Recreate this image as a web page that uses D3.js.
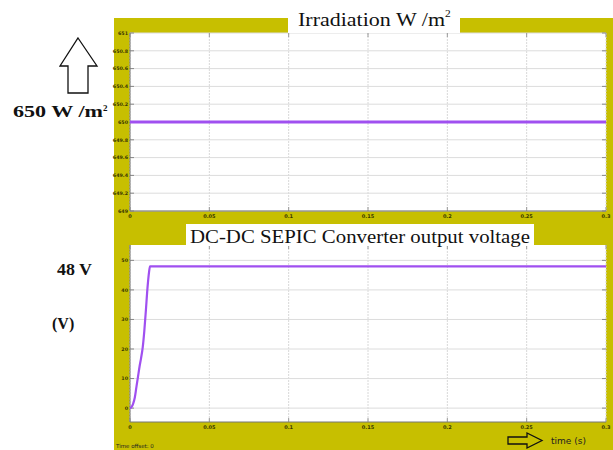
<!DOCTYPE html>
<html>
<head>
<meta charset="utf-8">
<script src="https://cdn.jsdelivr.net/npm/d3@7"></script>
<style>
  html, body { margin: 0; padding: 0; background: #fff; }
  svg { display: block; }
  .serif { font-family: "Liberation Serif", "DejaVu Serif", serif; }
</style>
</head>
<body>
<svg id="chart" width="613" height="450"></svg>
<script>
// Time axis shared by both scopes (seconds)
const timeTicks = [0, 0.05, 0.1, 0.15, 0.2, 0.25, 0.3];
const timeTickLabels = ["0", "0.05", "0.1", "0.15", "0.2", "0.25", "0.3"];

// Irradiation scope
const irrTicks = [649, 649.2, 649.4, 649.6, 649.8, 650, 650.2, 650.4, 650.6, 650.8, 651];
const irrTime = [0, 0.3];
const irrValue = [650, 650];

// SEPIC output voltage scope
const voltTicks = [0, 10, 20, 30, 40, 50];
const voltTime = [0, 0.001, 0.002, 0.003, 0.004, 0.005, 0.006, 0.007, 0.008, 0.009, 0.010, 0.011, 0.012, 0.0126, 0.3];
const voltValue = [0, 0.4, 1.5, 3.5, 7, 10.5, 14, 17, 20.5, 26, 33, 40.5, 46, 48, 48];

const svg = d3.select("#chart");
const yellow = "#c7bf00";
const purple = "#a050f0";

// scope panel background
svg.append("rect").attr("x", 114).attr("y", 18).attr("width", 499).attr("height", 432).attr("fill", yellow);

const x = d3.scaleLinear().domain([0, 0.3]).range([130, 606]);

function drawScope(top, bottom, domain, ticks, tickFmt, times, values, lineW) {
  const y = d3.scaleLinear().domain(domain).range([bottom, top]);
  const g = svg.append("g");
  g.append("rect").attr("x", 130).attr("y", top).attr("width", 476).attr("height", bottom - top)
    .attr("fill", "#fff");
  // grid
  g.selectAll(".vg").data(timeTicks).join("line")
    .attr("x1", d => x(d)).attr("x2", d => x(d)).attr("y1", top).attr("y2", bottom)
    .attr("stroke", "#d8d8d8").attr("stroke-width", 1).attr("stroke-dasharray", "2,1");
  g.selectAll(".hg").data(ticks).join("line")
    .attr("x1", 130).attr("x2", 606).attr("y1", d => y(d)).attr("y2", d => y(d))
    .attr("stroke", "#dcdcdc").attr("stroke-width", 1);
  // inner tick marks
  g.selectAll(".lt").data(ticks).join("line")
    .attr("x1", 130).attr("x2", 134).attr("y1", d => y(d)).attr("y2", d => y(d))
    .attr("stroke", "#888");
  g.selectAll(".rt").data(ticks).join("line")
    .attr("x1", 602).attr("x2", 606).attr("y1", d => y(d)).attr("y2", d => y(d))
    .attr("stroke", "#888");
  g.selectAll(".tt").data(timeTicks).join("line")
    .attr("x1", d => x(d)).attr("x2", d => x(d)).attr("y1", top).attr("y2", top + 4)
    .attr("stroke", "#999");
  g.selectAll(".bt").data(timeTicks).join("line")
    .attr("x1", d => x(d)).attr("x2", d => x(d)).attr("y1", bottom - 4).attr("y2", bottom)
    .attr("stroke", "#999");
  // frame
  g.append("line").attr("x1", 130).attr("x2", 606).attr("y1", bottom).attr("y2", bottom)
    .attr("stroke", "#777").attr("stroke-width", 1);
  g.append("line").attr("x1", 130).attr("x2", 130).attr("y1", top).attr("y2", bottom)
    .attr("stroke", "#777").attr("stroke-width", 1);
  // y tick labels
  g.selectAll(".yl").data(ticks).join("text")
    .attr("x", 128).attr("y", d => y(d) + 1.7)
    .attr("text-anchor", "end").attr("font-size", 4.8).attr("font-weight", "bold")
    .attr("font-family", "DejaVu Sans, sans-serif").attr("fill", "#3a3800")
    .text(tickFmt);
  // x tick labels
  g.selectAll(".xl").data(timeTicks).join("text")
    .attr("x", d => x(d)).attr("y", bottom + 7)
    .attr("text-anchor", "middle").attr("font-size", 5).attr("font-weight", "bold")
    .attr("font-family", "DejaVu Sans, sans-serif").attr("fill", "#3a3800")
    .text((d, i) => timeTickLabels[i]);
  // signal
  const line = d3.line().x(d => x(d[0])).y(d => y(d[1])).curve(d3.curveMonotoneX);
  g.append("path").datum(times.map((t, i) => [t, values[i]]))
    .attr("d", line).attr("fill", "none").attr("stroke", purple)
    .attr("stroke-width", lineW).attr("stroke-linejoin", "round");
  return y;
}

drawScope(33, 211, [649, 651], irrTicks, d => d3.format(".1f")(d).replace(/\.0$/, ""), irrTime, irrValue, 3);
drawScope(245, 422, [-4.7, 55.2], voltTicks, d => String(d), voltTime, voltValue, 2.2);

// scope titles (wide serif lettering)
function titleBox(x0, y0, w, h, text, sup, tx, ty, size, len) {
  svg.append("rect").attr("x", x0).attr("y", y0).attr("width", w).attr("height", h).attr("fill", "#fff");
  const t = svg.append("text").attr("class", "serif").attr("x", tx).attr("y", ty)
    .attr("font-size", size).attr("fill", "#111");
  t.append("tspan").text(text).attr("textLength", len).attr("lengthAdjust", "spacingAndGlyphs");
  if (sup) t.append("tspan").text(sup).attr("font-size", size * 0.6).attr("dy", -size * 0.45);
}
titleBox(288, 0, 172, 33, "Irradiation  W /m", "2", 298, 26, 19, 147);
titleBox(186, 224, 348, 22, "DC-DC SEPIC Converter output voltage", null, 190, 243, 18, 340);

// annotations on the left
svg.append("path")
  .attr("d", "M78,38 L97,66 L88,66 L88,93 L68,93 L68,66 L60,66 Z")
  .attr("fill", "#fff").attr("stroke", "#111").attr("stroke-width", 1.3);
const lab = svg.append("text").attr("class", "serif").attr("x", 13).attr("y", 117)
  .attr("font-size", 17).attr("font-weight", "bold").attr("fill", "#111");
lab.append("tspan").text("650 W /m").attr("textLength", 90).attr("lengthAdjust", "spacingAndGlyphs");
lab.append("tspan").text("2").attr("font-size", 9).attr("dy", -6);
svg.append("text").attr("class", "serif").attr("x", 57).attr("y", 275)
  .attr("font-size", 16).attr("font-weight", "bold").attr("fill", "#111")
  .attr("textLength", 35).attr("lengthAdjust", "spacingAndGlyphs").text("48 V");
svg.append("text").attr("class", "serif").attr("x", 52).attr("y", 329)
  .attr("font-size", 16).attr("font-weight", "bold").attr("fill", "#111").text("(V)");

// time axis annotation
svg.append("path")
  .attr("d", "M508,437 L527,437 L527,433 L542,440.5 L527,448 L527,444 L508,444 Z")
  .attr("fill", "none").attr("stroke", "#111").attr("stroke-width", 1.3);
svg.append("text").attr("x", 551).attr("y", 444).attr("font-size", 9)
  .attr("font-family", "DejaVu Sans, sans-serif").attr("fill", "#222").text("time (s)");
svg.append("text").attr("x", 116).attr("y", 448).attr("font-size", 5.5)
  .attr("font-family", "DejaVu Sans, sans-serif").attr("fill", "#222").text("Time offset: 0");
</script>
</body>
</html>
